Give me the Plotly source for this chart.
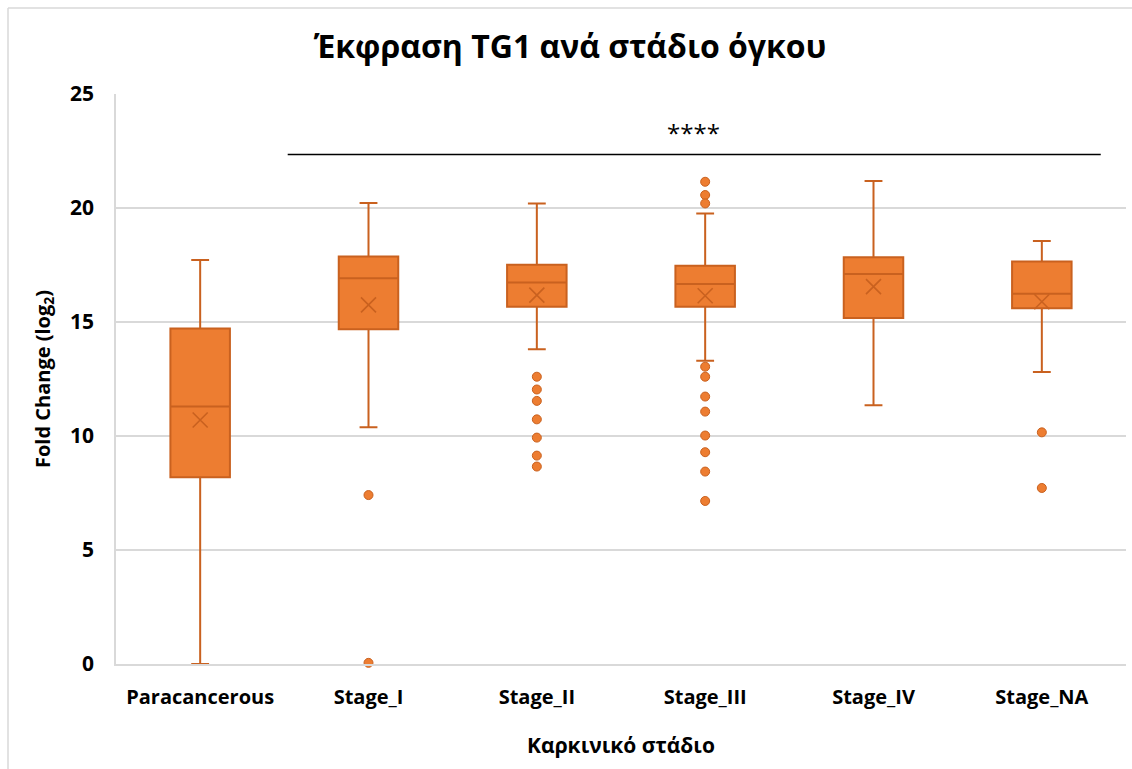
import plotly.graph_objects as go

# Tumour-stage groups and their box statistics (log2 fold change)
categories = ["Paracancerous", "Stage_I", "Stage_II", "Stage_III", "Stage_IV", "Stage_NA"]
lower_whisker = [0.0, 10.38, 13.80, 13.30, 11.35, 12.81]
q1_values = [8.19, 14.68, 15.67, 15.67, 15.18, 15.60]
median_values = [11.29, 16.92, 16.73, 16.67, 17.11, 16.24]
q3_values = [14.72, 17.87, 17.51, 17.47, 17.84, 17.65]
upper_whisker = [17.72, 20.22, 20.20, 19.76, 21.18, 18.55]
mean_values = [10.70, 15.75, 16.18, 16.15, 16.55, 15.89]

# Outlying samples per group
outliers = {
    "Paracancerous": [],
    "Stage_I": [7.41, 0.05],
    "Stage_II": [12.60, 12.04, 11.54, 10.73, 9.93, 9.14, 8.66],
    "Stage_III": [21.15, 20.57, 20.20, 13.04, 12.60, 11.73, 11.07, 10.02, 9.29, 8.44, 7.15],
    "Stage_IV": [],
    "Stage_NA": [10.16, 7.72],
}

# Significance bracket spanning the tumour stages
sig_label = "****"
sig_level = 22.35

FILL = "#ED7D31"
EDGE = "#C9611F"
GRID = "#D9D9D9"
FONT = "Open Sans"

fig = go.Figure()

fig.add_trace(go.Box(
    x=categories,
    q1=q1_values,
    median=median_values,
    q3=q3_values,
    lowerfence=lower_whisker,
    upperfence=upper_whisker,
    fillcolor=FILL,
    line=dict(color=EDGE, width=2),
    whiskerwidth=0.3,
    boxpoints=False,
    showlegend=False,
    hoverinfo="skip",
))

out_x = [c for c in categories for _ in outliers[c]]
out_y = [v for c in categories for v in outliers[c]]
fig.add_trace(go.Scatter(
    x=out_x, y=out_y, mode="markers",
    marker=dict(symbol="circle", size=9, color=FILL, line=dict(color=EDGE, width=1)),
    cliponaxis=False, showlegend=False, hoverinfo="skip",
))

fig.add_trace(go.Scatter(
    x=categories, y=mean_values, mode="markers",
    marker=dict(symbol="x-thin-open", size=15, color=EDGE, line=dict(color=EDGE, width=1.6)),
    showlegend=False, hoverinfo="skip",
))

W, H = 1132, 769
L, R, T, B = 116, 6, 94, 105
pw, ph = W - L - R, H - T - B


def px_x(p):
    return (p - L) / pw


def px_y(p):
    return (H - B - p) / ph


shapes = [
    # outer chart border (top and left edges)
    dict(type="line", xref="paper", yref="paper", x0=px_x(8), x1=px_x(1140), y0=px_y(8), y1=px_y(8),
         line=dict(color=GRID, width=1.5)),
    dict(type="line", xref="paper", yref="paper", x0=px_x(8), x1=px_x(8), y0=px_y(8), y1=px_y(780),
         line=dict(color=GRID, width=1.5)),
    # significance bracket
    dict(type="line", xref="x", yref="y", x0=0.52, x1=5.35, y0=sig_level, y1=sig_level,
         line=dict(color="black", width=1.5)),
]

fig.update_layout(
    width=W, height=H,
    margin=dict(l=L, r=R, t=T, b=B),
    paper_bgcolor="white", plot_bgcolor="white",
    boxgap=0.495,
    font=dict(family=FONT, color="black"),
    title=dict(text="Έκφραση TG1 ανά στάδιο όγκου", x=570 / W, xref="container", xanchor="center",
               y=1 - 47 / H, yanchor="middle",
               font=dict(size=32, family=FONT, color="black", weight="bold")),
    shapes=shapes,
    annotations=[dict(text=sig_label, x=2.93, y=23.3, xref="x", yref="y", showarrow=False,
                      font=dict(size=24, family=FONT, color="black"))],
)

fig.update_xaxes(
    type="category", categoryorder="array", categoryarray=categories,
    tickfont=dict(size=20, family=FONT, color="black", weight="bold"),
    showline=True, linecolor=GRID, linewidth=1.5,
    showgrid=False, ticks="", ticklabelstandoff=14,
    title=dict(text="Καρκινικό στάδιο", font=dict(size=21, family=FONT, color="black", weight="bold"),
               standoff=30),
)

fig.update_yaxes(
    range=[0, 25], dtick=5,
    tickfont=dict(size=21, family=FONT, color="black", weight="bold"),
    showgrid=True, gridcolor=GRID, gridwidth=1.5,
    zeroline=False,
    showline=True, linecolor=GRID, linewidth=1.5,
    ticks="", ticklabelstandoff=16,
    title=dict(text="<b>Fold Change (log<sub>2</sub>)</b>",
               font=dict(size=20, family=FONT, color="black", weight="bold"),
               standoff=14),
)

fig.write_html("out.html")
